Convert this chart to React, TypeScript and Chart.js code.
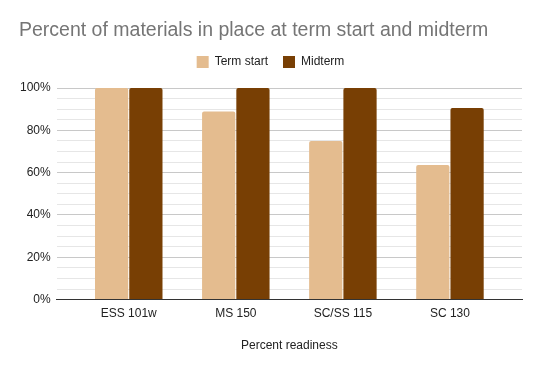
import React, { useEffect, useRef } from "react";
import { Chart, registerables } from "chart.js";

Chart.register(...registerables);

const categories = ["ESS 101w", "MS 150", "SC/SS 115", "SC 130"];
const termStart = [100, 88.9, 75, 63.6];
const midterm = [100, 100, 100, 90.5];
const seriesNames = ["Term start", "Midterm"];
const titleText = "Percent of materials in place at term start and midterm";
const xAxisTitle = "Percent readiness";

const FONT = "'Liberation Sans', Arial, sans-serif";

const legendMargin = {
  id: "legendMargin",
  beforeInit(chart: any) {
    const fit = chart.legend.fit;
    chart.legend.fit = function () {
      fit.bind(this)();
      this.height += 10;
    };
  },
};

export default function App() {
  const ref = useRef<HTMLCanvasElement | null>(null);

  useEffect(() => {
    if (!ref.current) return;
    const chart = new Chart(ref.current, {
      type: "bar",
      data: {
        datasets: [
          {
            label: seriesNames[0],
            data: termStart.map((v, i) => ({ x: i, y: v })),
            backgroundColor: "#e4bc8f",
            borderRadius: { topLeft: 2, topRight: 2 },
            categoryPercentage: 0.64,
            barPercentage: 0.97,
          },
          {
            label: seriesNames[1],
            data: midterm.map((v, i) => ({ x: i, y: v })),
            backgroundColor: "#783f04",
            borderRadius: { topLeft: 2, topRight: 2 },
            categoryPercentage: 0.64,
            barPercentage: 0.97,
          },
        ],
      },
      plugins: [legendMargin],
      options: {
        responsive: false,
        animation: false,
        layout: { padding: { left: 19, right: 19, top: 0, bottom: 18.6 } },
        plugins: {
          title: {
            display: true,
            text: titleText,
            align: "start",
            color: "#757575",
            font: { family: FONT, size: 19.5, weight: "normal" },
            padding: { top: 19, bottom: -1.4 },
          },
          legend: {
            display: true,
            labels: {
              boxWidth: 12,
              boxHeight: 12,
              color: "#222",
              font: { family: FONT, size: 12 },
              padding: 15,
            },
          },
          tooltip: { enabled: false },
        },
        scales: {
          x: {
            type: "linear",
            min: -0.673,
            max: categories.length - 1 + 0.673,
            offset: false,
            grid: { display: false, drawTicks: false },
            border: { display: true, color: "#333", width: 1 },
            afterBuildTicks: (axis: any) => {
              axis.ticks = categories.map((_, i) => ({ value: i }));
            },
            ticks: {
              autoSkip: false,
              maxRotation: 0,
              color: "#222",
              font: { family: FONT, size: 12 },
              padding: 7,
              callback: (v: any) => categories[Number(v)] ?? "",
            },
            title: {
              display: true,
              text: xAxisTitle,
              color: "#222",
              font: { family: FONT, size: 12 },
              padding: { top: 10, bottom: 0 },
            },
          },
          y: {
            min: 0,
            max: 100,
            border: { display: false },
            afterFit: (axis: any) => {
              axis.width -= 5;
            },
            grid: {
              color: (ctx: any) =>
                ctx.tick && ctx.tick.value % 20 === 0 ? "#c8c8c8" : "#e6e6e6",
              drawTicks: false,
            },
            ticks: {
              stepSize: 5,
              autoSkip: false,
              color: "#222",
              font: { family: FONT, size: 12 },
              padding: 6,
              callback: (v: any) => (Number(v) % 20 === 0 ? v + "%" : ""),
            },
          },
        },
      },
    });
    return () => chart.destroy();
  }, []);

  return (
    <div style={{ position: "absolute", left: 0, top: 0, width: 541, height: 371, background: "#fff" }}>
      <canvas ref={ref} width={541} height={371} />
    </div>
  );
}
